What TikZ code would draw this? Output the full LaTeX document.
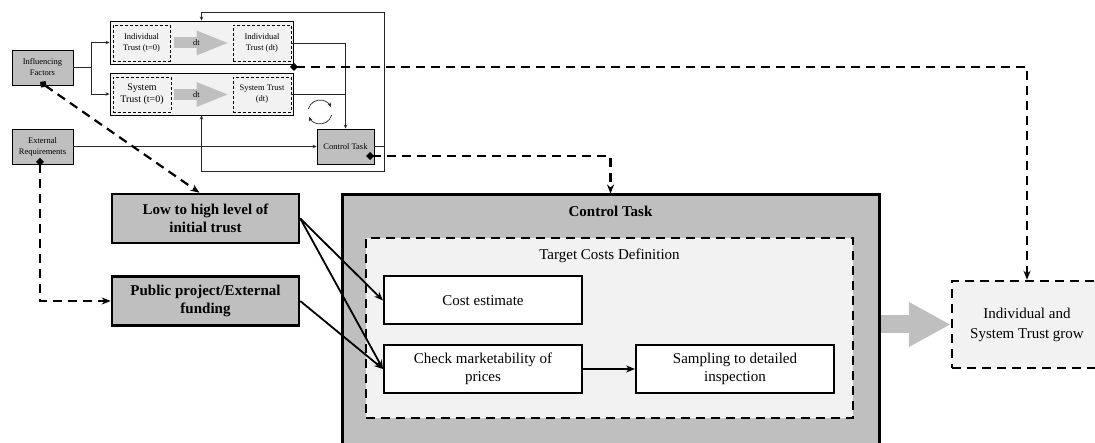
\documentclass[tikz,border=0pt]{standalone}
\usepackage{fontspec}
\setmainfont{Liberation Serif}
\usetikzlibrary{arrows.meta, calc}
\definecolor{boxgray}{HTML}{BFBFBF}
\definecolor{paleg}{HTML}{F2F2F2}
\tikzset{
    smallgray/.style={draw, fill=boxgray, line width=.9pt, align=center,
        inner sep=0pt, font=\fontsize{8.5}{11}\selectfont},
    outerbox/.style={draw, fill=paleg, line width=.9pt, inner sep=0pt},
    innerbox/.style={draw, fill=paleg, line width=.9pt, dash pattern=on 3pt off 2pt,
        align=center, inner sep=0pt, font=\fontsize{8.5}{11}\selectfont},
    thinlink/.style={line width=.7pt, draw=black!85},
    thinarrow/.style={thinlink, -{Stealth[length=4pt, width=3.5pt]}},
    dtarrow/.style={draw=boxgray, line width=11pt,
        -{Triangle[length=33pt, width=22pt]}},
    graybig/.style={draw, fill=boxgray, line width=2.5pt, align=center,
        minimum width=187pt, minimum height=49pt, inner sep=0pt,
        font=\bfseries\fontsize{15}{18}\selectfont},
    whitebox/.style={draw, fill=white, line width=2pt, align=center,
        minimum width=198pt, minimum height=48pt, inner sep=0pt,
        font=\fontsize{15}{18}\selectfont},
    bigbox/.style={draw, fill=boxgray, line width=3pt},
    dashbox/.style={draw, fill=paleg, line width=2.5pt, dash pattern=on 9pt off 6pt},
    dashlink/.style={line width=2.2pt, dash pattern=on 9pt off 6pt,
        {Diamond[length=8pt, width=8pt]}-{Stealth[length=9pt, width=7pt]}},
    boldlink/.style={line width=1.8pt, -{Stealth[length=9pt, width=7pt]}},
    bigarrow/.style={draw=boxgray, line width=18pt,
        -{Triangle[length=42pt, width=42pt]}},
}

\begin{document}
\begin{tikzpicture}[x=1pt, y=-1pt]
    \useasboundingbox (0,0) rectangle (1095,443);

    % trust model
    \node[smallgray, minimum width=61, minimum height=35] (infl) at (42.5,67.5)
        {Influencing\\Factors};
    \node[smallgray, minimum width=61, minimum height=35] (extreq) at (42.5,146.5)
        {External\\Requirements};
    \node[outerbox, minimum width=183, minimum height=43] (indout) at (201.5,42.5) {};
    \node[innerbox, minimum width=57, minimum height=36] (indzero) at (141.5,43)
        {Individual\\Trust (t=0)};
    \node[innerbox, minimum width=58, minimum height=36] (inddt) at (262,43)
        {Individual\\Trust (dt)};
    \node[outerbox, minimum width=183, minimum height=42] (sysout) at (201.5,94) {};
    \node[innerbox, minimum width=58, minimum height=35,
        font=\fontsize{10}{12.5}\selectfont] (syszero) at (142,94.5)
        {System\\Trust (t=0)};
    \node[innerbox, minimum width=58, minimum height=35] (sysdt) at (262,94.5)
        {System Trust\\(dt)};
    \node[smallgray, minimum width=57, minimum height=35] (ctrlsmall) at (345.5,146.5)
        {Control Task};

    \draw[dtarrow] ([xshift=4]indzero.east) -- ([xshift=-3]inddt.west)
        node[pos=.4, font=\fontsize{8.5}{10}\selectfont] {dt};
    \draw[dtarrow] ([xshift=3]syszero.east) -- ([xshift=-3]sysdt.west)
        node[pos=.4, font=\fontsize{8.5}{10}\selectfont] {dt};

    \coordinate (split) at (91,67.5);
    \draw[thinlink] (infl.east) -- (split);
    \draw[thinarrow] (split) |- (indout.west);
    \draw[thinarrow] (split) |- (sysout.west);
    \draw[thinarrow] (extreq.east) -- (ctrlsmall.west);
    \draw[thinarrow] (inddt.east) -| (ctrlsmall.north);
    \draw[thinlink] (sysdt.east) -- (sysdt.east -| ctrlsmall.north);

    \coordinate (loopr) at (384,146.5);
    \coordinate (looptop) at (384,12);
    \coordinate (loopbot) at (384,171);
    \draw[thinlink] (ctrlsmall.east) -- (loopr);
    \draw[thinarrow] (loopr) -- (looptop) -| (indout.north);
    \draw[thinarrow] (loopr) -- (loopbot) -| (sysout.south);

    % feedback cycle
    \coordinate (cyc) at (320,112);
    \draw[thinarrow] (cyc) ++(-165:12) arc[start angle=-165, end angle=-25, radius=12];
    \draw[thinarrow] (cyc) ++(15:12) arc[start angle=15, end angle=155, radius=12];

    % control task
    \node[bigbox, minimum width=537, minimum height=275] (ctrl) at (610.5,332.5) {};
    \node[font=\bfseries\fontsize{15}{18}\selectfont] (ctrltitle) at (610.5,211)
        {Control Task};
    \node[dashbox, minimum width=487, minimum height=180] (tcd) at (609.5,328) {};
    \node[font=\fontsize{15}{18}\selectfont] (tcdtitle) at (609.5,256)
        {Target Costs Definition};
    \node[whitebox] (cost) at (483,300.5) {Cost estimate};
    \node[whitebox] (check) at (483,369) {Check marketability of\\prices};
    \node[whitebox] (sample) at (735,369) {Sampling to detailed\\inspection};

    \node[graybig] (low) at (205.5,218.5) {Low to high level of\\initial trust};
    \node[graybig] (pub) at (205.5,301) {Public project/External\\funding};

    % runs on past the right margin
    \node[dashbox, minimum width=170, minimum height=87] (grow) at (1037,324.5) {};
    \node[align=center, font=\fontsize{15}{20}\selectfont] (growtext) at (1027,325)
        {Individual and\\System Trust grow};

    \draw[boldlink] (low.east) -- (cost.west);
    \draw[boldlink] (low.east) -- (check.west);
    \draw[boldlink] (pub.east) -- (check.west);
    \draw[boldlink] (check.east) -- (sample.west);
    \draw[bigarrow] (ctrl.east |- grow.west) -- (grow.west);

    % dashed influence links
    \coordinate (inflpin) at (40,82);
    \coordinate (extpin) at (40,158);
    \coordinate (indpin) at (290,67);
    \coordinate (ctrlpin) at (366,156);
    \draw[dashlink] (inflpin) -- ([xshift=-6]low.north);
    \draw[dashlink] (extpin) |- (pub.west);
    \draw[dashlink] (indpin) -| (growtext |- grow.north);
    \draw[dashlink] (ctrlpin) -| (ctrl.north);
\end{tikzpicture}
\end{document}
